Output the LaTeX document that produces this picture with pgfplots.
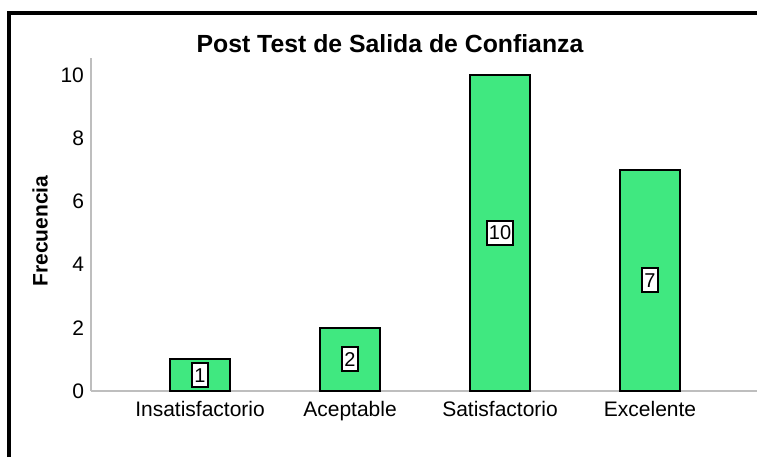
\documentclass[border=0pt]{standalone}
\usepackage{fontspec}
\setmainfont{Liberation Sans}
\usepackage{pgfplots}
\pgfplotsset{compat=1.18}
\definecolor{barfill}{RGB}{64,232,128}
\definecolor{axisgray}{RGB}{190,190,190}

\begin{document}
\begin{tikzpicture}[x=1pt,y=1pt]
\path[use as bounding box] (0,0) rectangle (378.5,228.5);
\begin{axis}[
    at={(45.5pt,33pt)}, anchor=south west,
    scale only axis, width=333pt, height=166.5pt,
    xmin=-0.727, xmax=3.713, ymin=0, ymax=10.54,
    axis x line=bottom, axis y line=left,
    axis line style={axisgray, line width=0.75pt, -},
    xtick={0,1,2,3},
    xticklabels={Insatisfactorio, Aceptable, Satisfactorio, Excelente},
    ytick={0,2,4,6,8,10},
    major tick length=0pt,
    ticklabel style={font=\fontsize{10.5}{12}\selectfont},
    /pgf/number format/assume math mode=true,
    xticklabel style={yshift=-1.5pt},
    clip=false
]
\addplot[ybar, bar width=30pt, fill=barfill, draw=black, line width=1pt]
    coordinates {(0,1) (1,2) (2,10) (3,7)};
% value labels at half bar height
\addplot[draw=none, mark=none, nodes near coords, point meta=explicit symbolic,
    every node near coord/.style={anchor=center, draw=black, fill=white,
        line width=1pt, inner xsep=1pt, inner ysep=0pt, minimum height=12pt,
        font=\fontsize{10}{12}\selectfont}]
    coordinates {(0,0.5) [1] (1,1) [2] (2,5) [10] (3,3.5) [7]};
\end{axis}
\node[font=\bfseries\fontsize{12.4}{14}\selectfont] at (195,206.5) {Post Test de Salida de Confianza};
\node[rotate=90, font=\bfseries\fontsize{10.5}{12}\selectfont] at (20,113) {Frecuencia};
\draw[line width=2pt] (4.5,0) -- (4.5,222) -- (378.5,222);
\end{tikzpicture}
\end{document}
